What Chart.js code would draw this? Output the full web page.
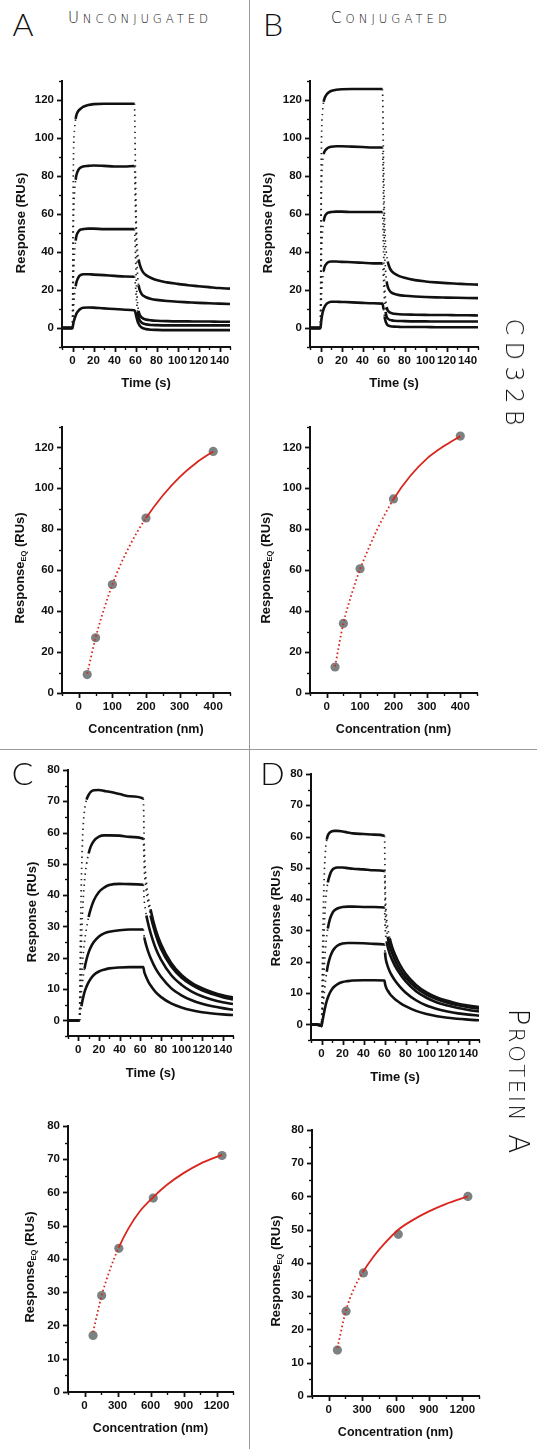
<!DOCTYPE html>
<html><head><meta charset="utf-8">
<script src="https://cdn.jsdelivr.net/npm/chart.js@4.4.1/dist/chart.umd.min.js"></script>
<style>
html,body{margin:0;padding:0;background:#fff;}
body{width:537px;height:1449px;position:relative;overflow:hidden;}
canvas{position:absolute;}
.sep{position:absolute;background:#9a9a9a;}
.lbl{position:absolute;font-family:Lato,"DejaVu Sans",sans-serif;font-weight:300;color:#111;line-height:1;white-space:nowrap;}
.cap{font-family:"DejaVu Sans",Lato,sans-serif;font-weight:200;}
.sc{text-transform:uppercase;}
</style></head><body>
<div class="sep" style="left:249px;top:0;width:1px;height:1449px"></div>
<div class="sep" style="left:0;top:749px;width:537px;height:1px"></div>
<script>
// ---------- DATA ----------
// Sensorgram time points (s)
const tAB = [-10, -1, 0, 0.5, 1, 2, 3, 4, 6, 8, 10, 15, 20, 30, 40, 50, 59, 60, 61, 62, 63, 64, 66, 68, 70, 75, 80, 90, 100, 110, 120, 130, 140, 150];
const tC = [-10, 0, 1, 2, 3, 4, 5, 6, 8, 10, 12, 15, 20, 25, 30, 40, 50, 63, 64, 65, 66, 68, 70, 75, 80, 90, 100, 110, 120, 130, 140, 150];
const tD = [-10, -2, 0, 0.5, 1, 2, 3, 4, 5, 6, 8, 10, 12, 15, 20, 25, 30, 40, 50, 60, 60.5, 61, 62, 63, 65, 67, 70, 75, 80, 90, 100, 110, 120, 130, 140, 150];

// A: unconjugated, CD32B (RUs)
const A1 = [0, 0, 0, 60, 92, 105, 110, 112.5, 114.5, 115.5, 116.3, 117.3, 117.8, 118, 118, 118, 118, 80, 50, 40, 36, 33.5, 30.5, 28.8, 27.8, 26.3, 25.2, 24, 23.2, 22.5, 22, 21.5, 21, 20.7];
const A2 = [0, 0, 0, 35, 58, 72, 78, 81, 83.5, 84.5, 85, 85.3, 85.5, 85.3, 85, 85, 85.2, 62, 40, 28, 22.5, 20, 17.8, 16.8, 16.2, 15.3, 14.8, 14.2, 13.8, 13.5, 13.2, 13, 12.8, 12.6];
const A3 = [0, 0, 0, 15, 28, 40, 46, 49, 51, 51.8, 52, 52.3, 52.3, 52, 52, 52, 52, 38, 22, 13, 9, 7, 5.5, 4.8, 4.4, 4, 3.8, 3.6, 3.5, 3.5, 3.4, 3.4, 3.3, 3.3];
const A4 = [0, 0, 0, 6, 11, 18, 22, 24.5, 27, 27.9, 28.3, 28.3, 28.1, 27.8, 27.4, 27.1, 27, 22, 14, 8.5, 5.5, 4, 2.8, 2.2, 1.9, 1.6, 1.5, 1.4, 1.4, 1.4, 1.4, 1.4, 1.4, 1.4];
const A5 = [0, 0, 0, 1.5, 3, 5, 6.5, 7.8, 9.3, 10.2, 10.6, 10.8, 10.7, 10.3, 10, 9.6, 9.3, 8, 5.5, 3.5, 2.2, 1.2, 0.2, -0.3, -0.6, -0.9, -1, -1.1, -1.1, -1.1, -1.1, -1.1, -1.1, -1.1];
// B: conjugated, CD32B
const B1 = [0, 0, 0, 70, 100, 114, 119, 121, 123, 124, 124.7, 125.3, 125.6, 125.7, 125.7, 125.7, 125.7, 88, 58, 44, 38.5, 35, 31.5, 29.8, 28.8, 27.3, 26.4, 25.2, 24.5, 24, 23.6, 23.3, 23, 22.8];
const B2 = [0, 0, 0, 50, 75, 87, 91.5, 93, 94.3, 95, 95.4, 95.6, 95.6, 95.4, 95.2, 95, 95, 68, 42, 30, 24.5, 21.8, 19.5, 18.5, 18, 17.3, 17, 16.6, 16.3, 16.1, 16, 15.9, 15.8, 15.7];
const B3 = [0, 0, 0, 25, 40, 51, 56, 58.5, 60.2, 60.8, 61, 61.2, 61.2, 61, 61, 61, 61, 42, 24, 15, 11, 9.3, 8.2, 7.7, 7.5, 7.2, 7.1, 7, 6.9, 6.8, 6.8, 6.7, 6.7, 6.6];
const B4 = [0, 0, 0, 10, 18, 26, 30, 32.3, 34, 34.8, 35, 35, 34.8, 34.6, 34.3, 34, 34, 26, 14, 8.5, 6, 5, 4.3, 4, 3.8, 3.7, 3.6, 3.5, 3.5, 3.4, 3.4, 3.4, 3.4, 3.4];
const B5 = [0, 0, 0, 2.5, 5, 8, 10, 11.3, 12.8, 13.5, 13.8, 13.8, 13.7, 13.5, 13.2, 13, 12.8, 10, 6, 3.5, 2.2, 1.5, 1, 0.8, 0.7, 0.6, 0.5, 0.5, 0.5, 0.4, 0.4, 0.4, 0.4, 0.4];
// C: unconjugated, Protein A
const C1 = [0, 0, 0, 25, 45, 57, 63.5, 67, 70.5, 72, 73, 73.5, 73.6, 73.3, 73, 72.3, 71.6, 70.8, 55, 48, 44, 39, 35.5, 29, 24.5, 18.3, 14.5, 12, 10.3, 9, 8, 7.3];
const C2 = [0, 0, 0, 13, 25, 34, 40, 44.5, 50, 53.3, 55.5, 57.3, 58.7, 59.1, 59.1, 59, 58.6, 58, 48, 44, 41, 37, 33.5, 27.5, 23, 17.3, 13.7, 11.3, 9.6, 8.4, 7.4, 6.7];
const C3 = [0, 0, 0, 7, 13, 18, 22, 25, 29.5, 33, 35.5, 38.3, 41, 42.4, 43.2, 43.6, 43.5, 43.3, 38, 35.5, 33.5, 30.5, 28, 23, 19.5, 14.5, 11.4, 9.2, 7.7, 6.6, 5.8, 5.2];
const C4 = [0, 0, 0, 5, 9, 12, 14.5, 16.5, 19.5, 21.7, 23.3, 25, 26.8, 27.8, 28.3, 28.8, 29, 29, 26.5, 25, 23.8, 21.7, 20, 16.5, 14, 10.3, 8, 6.4, 5.3, 4.5, 3.9, 3.4];
const C5 = [0, 0, 0, 2.5, 4.5, 6.3, 7.7, 9, 10.8, 12.2, 13.3, 14.5, 15.6, 16.2, 16.6, 16.9, 17, 17, 15.4, 14.5, 13.7, 12.3, 11.2, 9, 7.5, 5.4, 4.1, 3.2, 2.6, 2.2, 1.9, 1.7];
// D: conjugated, Protein A
const D1 = [0, -0.2, -0.5, 8, 22, 40, 51, 56.5, 59, 60.3, 61.3, 61.7, 61.8, 61.8, 61.6, 61.3, 61, 60.8, 60.6, 60.2, 48, 40, 34, 31, 27.5, 25, 22.3, 18.8, 16.2, 12.6, 10.2, 8.6, 7.5, 6.6, 6, 5.5];
const D2 = [0, -0.2, -0.5, 4, 12, 25, 34, 39.5, 43, 45.3, 47.8, 49.2, 49.8, 50.1, 50.1, 49.9, 49.7, 49.5, 49.2, 49, 40, 35, 30.5, 28, 25, 23, 20.5, 17.3, 15, 11.7, 9.5, 8, 6.9, 6.1, 5.5, 5];
const D3 = [0, -0.2, -0.5, 2, 6, 14, 20.5, 25, 28.3, 30.6, 33.6, 35.3, 36.3, 37, 37.5, 37.6, 37.6, 37.5, 37.5, 37.3, 32, 29, 26.5, 24.8, 22.5, 20.8, 18.7, 16, 13.8, 10.6, 8.5, 7, 6, 5.2, 4.6, 4.1];
const D4 = [0, -0.2, -0.5, 1, 3, 7.5, 11.3, 14.4, 16.8, 18.7, 21.3, 23, 24.1, 25.1, 25.8, 26, 26, 25.9, 25.7, 25.5, 23, 21.3, 19.7, 18.6, 16.9, 15.6, 14, 11.9, 10.2, 7.7, 6, 4.9, 4.1, 3.5, 3.1, 2.8];
const D5 = [0, -0.2, -0.5, 0.3, 1.2, 3, 4.7, 6.2, 7.5, 8.5, 10.1, 11.2, 12, 12.8, 13.5, 13.8, 14, 14.1, 14.1, 14, 13, 12.3, 11.4, 10.8, 9.8, 9, 8, 6.8, 5.8, 4.3, 3.3, 2.6, 2.1, 1.8, 1.5, 1.3];

// Equilibrium binding (concentration nm, Response_EQ RUs)
const concCD = [25, 50, 100, 200, 400];
const eqA = [9, 27, 53, 85.5, 118];
const eqB = [12.7, 34, 60.7, 94.8, 125.5];
const concPA = [78, 156, 312, 625, 1250];
const eqC = [17, 29, 43.2, 58.3, 71.1];
const eqD = [13.8, 25.5, 37, 48.6, 60];
// Fitted curves
const fitConcCD = [25, 50, 75, 100, 125, 150, 175, 200, 250, 300, 350, 400];
const fitA = [9.5, 27, 41, 53, 63, 71.5, 79, 85.5, 96.5, 105.5, 112.5, 118];
const fitB = [13, 34, 48.5, 60.5, 70.5, 79.5, 87.5, 94.7, 106, 114.5, 120.5, 125.5];
const fitConcPA = [78, 156, 234, 312, 400, 500, 625, 750, 900, 1050, 1250];
const fitC = [18, 29, 37, 43.5, 49.2, 54.2, 58.6, 62.3, 65.8, 68.6, 71.3];
const fitD = [14.5, 25.8, 32.8, 37.5, 41.8, 45.8, 50, 52.8, 55.5, 57.7, 60];

// Tick labels
const timeTicks = [0, 20, 40, 60, 80, 100, 120, 140];
const respTicksCD = [0, 20, 40, 60, 80, 100, 120];
const respTicksPA = [0, 10, 20, 30, 40, 50, 60, 70, 80];
const concTicksCD = [0, 100, 200, 300, 400];
const concTicksPA = [0, 300, 600, 900, 1200];

// ---------- DRAWING ----------
const FONT = '"Liberation Sans", Arial, Helvetica, sans-serif';
const INK = '#111';

const deco = {
  id: 'deco',
  afterDraw(chart, args, o) {
    const ctx = chart.ctx, ca = chart.chartArea;
    const xs = chart.scales.x, ys = chart.scales.y;
    ctx.save();
    ctx.strokeStyle = INK;
    xs.ticks.forEach(t => {
      const maj = o.xMajor.includes(t.value);
      const p = Math.round(xs.getPixelForValue(t.value)) + 0.5;
      ctx.lineWidth = maj ? 1.8 : 1.4;
      ctx.beginPath(); ctx.moveTo(p, ca.bottom); ctx.lineTo(p, ca.bottom + (maj ? 5 : 3)); ctx.stroke();
    });
    ys.ticks.forEach(t => {
      const maj = o.yMajor.includes(t.value);
      const p = Math.round(ys.getPixelForValue(t.value)) + 0.5;
      ctx.lineWidth = maj ? 1.8 : 1.4;
      ctx.beginPath(); ctx.moveTo(ca.left, p); ctx.lineTo(ca.left - (maj ? 5 : 3), p); ctx.stroke();
    });
    ctx.fillStyle = INK;
    ctx.textBaseline = 'middle';
    ctx.textAlign = 'center';
    ctx.font = 'bold ' + o.xSize + 'px ' + FONT;
    ctx.fillText(o.xTitle, (ca.left + ca.right) / 2, ca.bottom + o.xOff);
    // y title (rotated), parts may include a subscript
    ctx.translate(ca.left - o.yOff, (ca.top + ca.bottom) / 2 + o.yShift);
    ctx.rotate(-Math.PI / 2);
    ctx.textAlign = 'left';
    let total = 0;
    o.yParts.forEach(pt => { ctx.font = 'bold ' + pt[1] + 'px ' + FONT; total += ctx.measureText(pt[0]).width; });
    let x = -total / 2;
    o.yParts.forEach(pt => {
      ctx.font = 'bold ' + pt[1] + 'px ' + FONT;
      ctx.fillText(pt[0], x, pt[2]);
      x += ctx.measureText(pt[0]).width;
    });
    ctx.restore();
  }
};

function range(min, max, step) {
  const out = [];
  for (let v = min; v <= max + 1e-9; v += step) out.push(Math.round(v * 1000) / 1000);
  return out;
}

const isSteep = ctx => {
  const dx = Math.abs(ctx.p1.x - ctx.p0.x), dy = Math.abs(ctx.p1.y - ctx.p0.y);
  return dy > 5 * dx && dy > 6;
};

const PADL = 62, PADT = 14, PADR = 26, PADB = 52;

function makeChart(c) {
  const cv = document.createElement('canvas');
  const left = c.area.l - PADL, top = c.area.t - PADT;
  const w = c.area.r + PADR - left, h = c.area.b + PADB - top;
  cv.width = w; cv.height = h;
  cv.style.left = left + 'px'; cv.style.top = top + 'px';
  cv.style.width = w + 'px'; cv.style.height = h + 'px';
  document.body.appendChild(cv);
  const tickFont = {family: FONT, weight: 'bold', size: 11.5};
  const axis = (min, max, step, major, isX) => ({
    type: 'linear', min, max,
    afterBuildTicks: s => { s.ticks = range(min, max, step).map(v => ({value: v})); },
    afterFit: s => { if (isX) s.height = PADB; else s.width = PADL; },
    grid: {display: false, drawTicks: false},
    border: {display: true, color: INK, width: 2},
    ticks: {
      autoSkip: false, maxRotation: 0, minRotation: 0, padding: isX ? 7 : 8,
      color: INK, font: tickFont,
      callback: v => major.includes(v) ? String(v) : ''
    }
  });
  new Chart(cv, {
    type: 'line',
    data: {datasets: c.datasets},
    options: {
      responsive: false, animation: false, devicePixelRatio: 1,
      layout: {padding: {left: 0, top: PADT, right: PADR, bottom: 0}},
      plugins: {legend: {display: false}, tooltip: {enabled: false},
        deco: Object.assign({xMajor: c.xMajor, yMajor: c.yMajor}, c.titles)},
      scales: {
        x: axis(c.x[0], c.x[1], c.x[2], c.xMajor, true),
        y: axis(c.y[0], c.y[1], c.y[2], c.yMajor, false)
      }
    },
    plugins: [deco]
  });
}

function sensorSets(t, curves) {
  return curves.map(Y => ({
    data: t.map((x, i) => ({x, y: Y[i]})),
    borderColor: INK, borderWidth: 2.6, pointRadius: 0, fill: false,
    cubicInterpolationMode: 'monotone',
    segment: {
      borderDash: ctx => isSteep(ctx) ? [1.4, 4.2] : undefined,
      borderWidth: ctx => isSteep(ctx) ? 1.7 : undefined,
      borderColor: ctx => isSteep(ctx) ? '#222' : undefined
    }
  }));
}

function bindingSets(conc, eq, fitConc, fitVals, solidFrom) {
  return [
    {data: fitConc.map((x, i) => ({x, y: fitVals[i]})), borderColor: '#d8261d', borderWidth: 1.8,
     pointRadius: 0, fill: false, cubicInterpolationMode: 'monotone', order: 0,
     segment: {borderDash: ctx => fitConc[ctx.p1DataIndex] <= solidFrom ? [1.6, 2.6] : undefined}},
    {data: conc.map((x, i) => ({x, y: eq[i]})), showLine: false, pointRadius: 4.6,
     pointBackgroundColor: '#7c8181', pointBorderWidth: 0, order: 1}
  ];
}

const sensY = [['Response (RUs)', 13, 0]];
const bindY = [['Response', 13, 0], ['EQ', 7.5, 3.5], [' (RUs)', 13, 0]];

// Panel A (sensorgram)
makeChart({area: {l: 62, t: 80, r: 230, b: 347}, x: [-10, 150, 10], y: [-10, 130, 10],
  xMajor: timeTicks, yMajor: respTicksCD,
  titles: {xTitle: 'Time (s)', xSize: 13, xOff: 36, yParts: sensY, yOff: 41, yShift: 9},
  datasets: sensorSets(tAB, [A1, A2, A3, A4, A5])});
// Panel B (sensorgram)
makeChart({area: {l: 310, t: 80, r: 478, b: 347}, x: [-10, 150, 10], y: [-10, 130, 10],
  xMajor: timeTicks, yMajor: respTicksCD,
  titles: {xTitle: 'Time (s)', xSize: 13, xOff: 36, yParts: sensY, yOff: 42, yShift: 9},
  datasets: sensorSets(tAB, [B1, B2, B3, B4, B5])});
// Panel A (binding)
makeChart({area: {l: 62, t: 426, r: 230, b: 693}, x: [-50, 450, 50], y: [0, 130, 10],
  xMajor: concTicksCD, yMajor: respTicksCD,
  titles: {xTitle: 'Concentration (nm)', xSize: 12.5, xOff: 37, yParts: bindY, yOff: 42, yShift: 8},
  datasets: bindingSets(concCD, eqA, fitConcCD, fitA, 200)});
// Panel B (binding)
makeChart({area: {l: 310, t: 426, r: 477, b: 693}, x: [-50, 450, 50], y: [0, 130, 10],
  xMajor: concTicksCD, yMajor: respTicksCD,
  titles: {xTitle: 'Concentration (nm)', xSize: 12.5, xOff: 37, yParts: bindY, yOff: 44, yShift: 8},
  datasets: bindingSets(concCD, eqB, fitConcCD, fitB, 200)});
// Panel C (sensorgram)
makeChart({area: {l: 68, t: 769, r: 233, b: 1036}, x: [-10, 150, 10], y: [-5, 80, 5],
  xMajor: timeTicks, yMajor: respTicksPA,
  titles: {xTitle: 'Time (s)', xSize: 13, xOff: 37, yParts: sensY, yOff: 36, yShift: 9},
  datasets: sensorSets(tC, [C1, C2, C3, C4, C5])});
// Panel D (sensorgram)
makeChart({area: {l: 311, t: 773, r: 479, b: 1040}, x: [-10, 150, 10], y: [-5, 80, 5],
  xMajor: timeTicks, yMajor: respTicksPA,
  titles: {xTitle: 'Time (s)', xSize: 13, xOff: 37, yParts: sensY, yOff: 35, yShift: 9},
  datasets: sensorSets(tD, [D1, D2, D3, D4, D5])});
// Panel C (binding)
makeChart({area: {l: 68, t: 1125, r: 233, b: 1392}, x: [-150, 1350, 150], y: [0, 80, 5],
  xMajor: concTicksPA, yMajor: respTicksPA,
  titles: {xTitle: 'Concentration (nm)', xSize: 12.5, xOff: 37, yParts: bindY, yOff: 38, yShift: 8},
  datasets: bindingSets(concPA, eqC, fitConcPA, fitC, 312)});
// Panel D (binding)
makeChart({area: {l: 312, t: 1129, r: 479, b: 1396}, x: [-150, 1350, 150], y: [0, 80, 5],
  xMajor: concTicksPA, yMajor: respTicksPA,
  titles: {xTitle: 'Concentration (nm)', xSize: 12.5, xOff: 37, yParts: bindY, yOff: 36, yShift: 8},
  datasets: bindingSets(concPA, eqD, fitConcPA, fitD, 312)});

// ---------- LABELS ----------
// parts: [text, relative size]; relative size < 1 renders as small capitals
function label(parts, cx, cy, size, opt) {
  opt = opt || {};
  const d = document.createElement('div');
  d.className = 'lbl' + (opt.cls ? ' ' + opt.cls : '');
  d.style.fontSize = size + 'px';
  let n = 0;
  parts.forEach(p => {
    const s = document.createElement('span');
    s.textContent = p[0];
    if (p[1] < 1) { s.className = 'sc'; s.style.fontSize = (size * p[1]) + 'px'; }
    d.appendChild(s);
    n += p[0].length;
  });
  document.body.appendChild(d);
  if (opt.fit) {
    const w0 = d.getBoundingClientRect().width;
    const ls = (opt.fit - w0) / Math.max(1, n - 1);
    d.style.letterSpacing = ls + 'px';
    d.style.paddingLeft = Math.max(0, ls) + 'px';
  }
  d.style.left = cx + 'px';
  d.style.top = cy + 'px';
  d.style.transform = 'translate(-50%,-50%)' + (opt.rotate ? ' rotate(90deg)' : '');
}
label([['A', 1]], 23, 24, 32);
label([['B', 1]], 273, 24, 32);
label([['C', 1]], 22.5, 773, 32);
label([['D', 1]], 272.5, 773, 32);
label([['U', 1], ['nconjugated', 0.78]], 138, 18, 15, {cls: 'cap', fit: 140});
label([['C', 1], ['onjugated', 0.78]], 389, 18, 15, {cls: 'cap', fit: 116});
label([['CD32B', 1]], 513.5, 371.5, 24, {cls: 'cap', rotate: true, fit: 107});
label([['P', 1], ['rotein', 0.76], [' A', 1]], 518, 1080.5, 28, {cls: 'cap', rotate: true, fit: 145});
</script>
</body></html>
